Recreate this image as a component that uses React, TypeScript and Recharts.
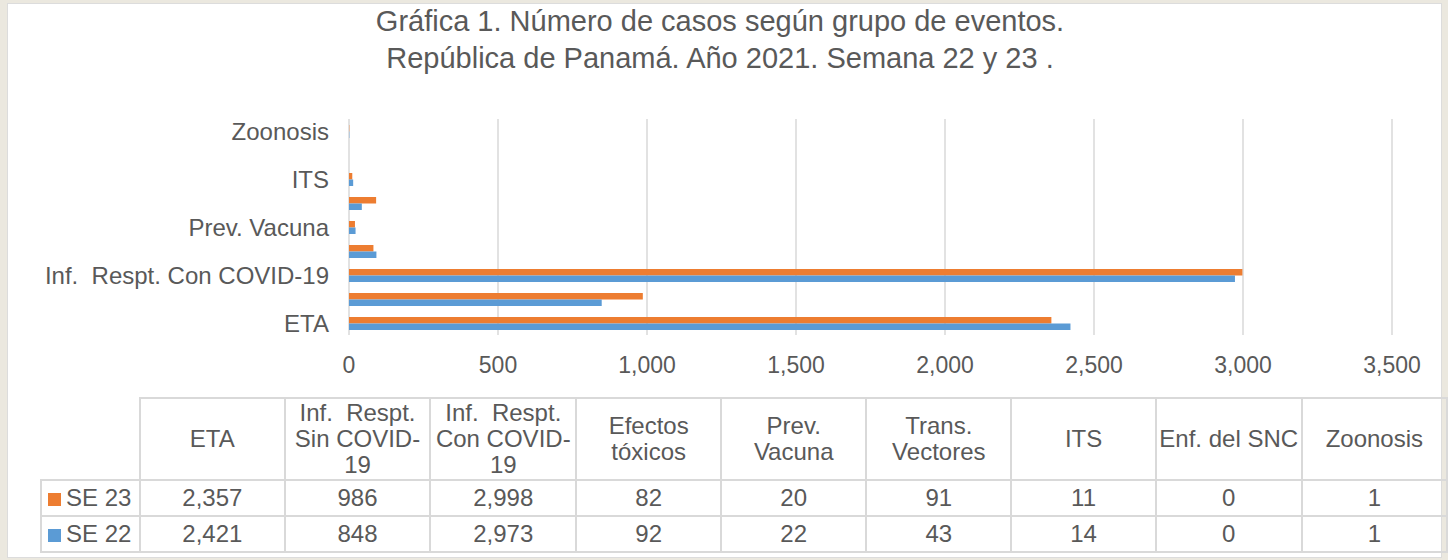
import { BarChart, Bar, XAxis, YAxis, CartesianGrid } from "recharts";

const categories = [
  "ETA",
  "Inf.  Respt. Sin COVID-19",
  "Inf.  Respt. Con COVID-19",
  "Efectos tóxicos",
  "Prev. Vacuna",
  "Trans. Vectores",
  "ITS",
  "Enf. del SNC",
  "Zoonosis",
];

// header text as it wraps in the table
const headerLines = [
  ["ETA"],
  ["Inf.  Respt.", "Sin COVID-", "19"],
  ["Inf.  Respt.", "Con COVID-", "19"],
  ["Efectos", "tóxicos"],
  ["Prev.", "Vacuna"],
  ["Trans.", "Vectores"],
  ["ITS"],
  ["Enf. del SNC"],
  ["Zoonosis"],
];

const se23 = [2357, 986, 2998, 82, 20, 91, 11, 0, 1];
const se22 = [2421, 848, 2973, 92, 22, 43, 14, 0, 1];

const xTicks = [0, 500, 1000, 1500, 2000, 2500, 3000, 3500];

const ORANGE = "#ED7D31";
const BLUE = "#5B9BD5";
const TEXT = "#595959";
const GRID = "#d9d9d9";
const FONT = '"Liberation Sans", Arial, sans-serif';

const fmt = (v: number) => v.toLocaleString("en-US");

// Excel draws the first category at the bottom
const chartData = categories
  .map((name, i) => ({ name, se23: se23[i], se22: se22[i] }))
  .reverse();

function YTick({ x, y, payload }: { x?: number; y?: number; payload?: { value: string } }) {
  return (
    <text
      x={x}
      y={y}
      textAnchor="end"
      dominantBaseline="central"
      fill={TEXT}
      fontSize={24}
      fontFamily={FONT}
      style={{ whiteSpace: "pre" }}
    >
      {payload?.value}
    </text>
  );
}

const cell: React.CSSProperties = {
  border: `2px solid ${GRID}`,
  padding: 0,
  textAlign: "center",
  verticalAlign: "middle",
  width: 144,
};

export default function App() {
  const rows = [
    { label: "SE 23", color: ORANGE, values: se23 },
    { label: "SE 22", color: BLUE, values: se22 },
  ];

  return (
    <div
      style={{
        position: "fixed",
        left: 0,
        top: 0,
        width: 1448,
        height: 560,
        background: "#ebe8df",
        fontFamily: FONT,
        color: TEXT,
      }}
    >
      <div
        style={{
          position: "absolute",
          left: 7,
          top: 3,
          width: 1433,
          height: 553,
          background: "#fff",
          border: "1px solid #dcdcdc",
        }}
      />
      <div
        style={{
          position: "absolute",
          left: 0,
          top: 3,
          width: 1440,
          textAlign: "center",
          fontSize: 29,
          lineHeight: "37px",
        }}
      >
        <div>Gráfica 1. Número de casos según grupo de eventos.</div>
        <div>República de Panamá. Año 2021. Semana 22 y 23 .</div>
      </div>

      <div style={{ position: "absolute", left: 0, top: 0 }}>
        <BarChart
          width={1448}
          height={392}
          data={chartData}
          layout="vertical"
          margin={{ top: 119, right: 56, bottom: 7, left: 0 }}
          barGap={0}
        >
          <CartesianGrid horizontal={false} stroke={GRID} strokeWidth={1.5} />
          <XAxis
            type="number"
            domain={[0, 3500]}
            ticks={xTicks}
            tickFormatter={fmt}
            axisLine={false}
            tickLine={false}
            tickSize={0}
            tickMargin={22}
            height={50}
            tick={{ fill: TEXT, fontSize: 23, fontFamily: FONT }}
          />
          <YAxis
            type="category"
            dataKey="name"
            width={349}
            interval={1}
            axisLine={false}
            tickLine={false}
            tickSize={0}
            tickMargin={20}
            tick={<YTick />}
          />
          <Bar dataKey="se23" fill={ORANGE} barSize={6.5} isAnimationActive={false} />
          <Bar dataKey="se22" fill={BLUE} barSize={6.5} isAnimationActive={false} />
        </BarChart>
      </div>

      <table
        style={{
          position: "absolute",
          left: 40,
          top: 397,
          borderCollapse: "collapse",
          tableLayout: "fixed",
          fontSize: 24,
          color: TEXT,
          fontFamily: FONT,
        }}
      >
        <tbody>
          <tr style={{ height: 82 }}>
            <td style={{ width: 98, padding: 0 }} />
            {headerLines.map((lines, i) => (
              <td key={i} style={{ ...cell, lineHeight: "26px" }}>
                {lines.map((l, j) => (
                  <div key={j} style={{ whiteSpace: "pre" }}>
                    {l}
                  </div>
                ))}
              </td>
            ))}
          </tr>
          {rows.map((r) => (
            <tr key={r.label} style={{ height: 36 }}>
              <td style={{ ...cell, width: 98, textAlign: "left" }}>
                <span
                  style={{
                    display: "inline-block",
                    width: 13,
                    height: 13,
                    background: r.color,
                    marginLeft: 6,
                    marginRight: 5,
                  }}
                />
                {r.label}
              </td>
              {r.values.map((v, i) => (
                <td key={i} style={cell}>
                  {fmt(v)}
                </td>
              ))}
            </tr>
          ))}
        </tbody>
      </table>
    </div>
  );
}
